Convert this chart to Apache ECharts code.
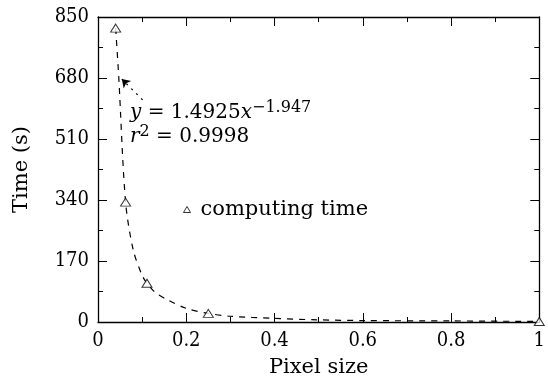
<!DOCTYPE html>
<html>
<head>
<meta charset="utf-8">
<script src="https://cdn.jsdelivr.net/npm/echarts@6/dist/echarts.min.js"></script>
<style>
  html, body { margin: 0; padding: 0; background: #fff; }
  #main { width: 548px; height: 383px; }
</style>
</head>
<body>
<div id="main"></div>
<script>
// measured points
const pixelSize = [0.04, 0.0625, 0.111, 0.25, 1]
const computeTime = [819, 334, 108, 24, 1.5]
// fitted curve
const fitX = [0.04, 0.047, 0.0625, 0.08, 0.1, 0.111, 0.13, 0.154, 0.2, 0.25, 0.3, 0.4, 0.5, 0.6, 0.8, 1]
const fitY = [819, 683, 334, 200, 130, 108, 82, 64, 38, 24, 16, 10, 6, 4, 3, 1.5]
const yTicks = [0, 170, 340, 510, 680, 850]

const font = 'DejaVu Serif'
const numFont = '"DejaVu Serif Condensed", "DejaVu Serif"'
const chart = echarts.init(document.getElementById('main'), null, { renderer: 'canvas' })

const axisCommon = {
  axisLine: { show: true, onZero: false, lineStyle: { color: '#000', width: 1.3 } },
  axisTick: { show: true, inside: true, length: 9, lineStyle: { color: '#000' } },
  minorTick: { show: true, splitNumber: 2, length: 5, lineStyle: { color: '#000' } },
  splitLine: { show: false }
}
const labelStyle = { fontFamily: numFont, fontSize: 20, color: '#000', margin: 9 }
const nameStyle = { fontFamily: font, fontSize: 21, color: '#000' }

chart.setOption({
  animation: false,
  textStyle: { fontFamily: font },
  grid: { left: 98, right: 5, top: 17, bottom: 61 },
  legend: {
    data: ['computing time'],
    left: 178, top: 194,
    itemWidth: 7, itemHeight: 6,
    itemStyle: { color: '#fff', borderColor: '#000', borderWidth: 1 },
    textStyle: { fontFamily: font, fontSize: 21, color: '#000', padding: [0, 0, 0, 5] }
  },
  xAxis: [{
    type: 'value', min: 0, max: 1, interval: 0.2,
    name: 'Pixel size', nameLocation: 'middle', nameGap: 35,
    nameTextStyle: nameStyle,
    axisLabel: { ...labelStyle, formatter: v => String(+v.toFixed(1)) },
    ...axisCommon
  }, {
    type: 'value', min: 0, max: 1, interval: 0.2, position: 'top',
    axisLabel: { show: false },
    ...axisCommon
  }],
  yAxis: [{
    type: 'value', min: 0, max: 850, interval: 170,
    name: 'Time (s)', nameLocation: 'middle', nameGap: 66,
    nameTextStyle: nameStyle,
    axisLabel: { ...labelStyle, formatter: v => yTicks.includes(v) ? String(v) : '' },
    ...axisCommon
  }, {
    type: 'value', min: 0, max: 850, interval: 170, position: 'right',
    axisLabel: { show: false },
    ...axisCommon
  }],
  series: [{
    name: 'fit',
    type: 'line',
    data: fitX.map((x, i) => [x, fitY[i]]),
    smooth: 0.3,
    showSymbol: false,
    lineStyle: { color: '#000', width: 1.2, type: [6, 6] },
    markLine: {
      silent: true,
      symbol: ['none', 'arrow'],
      symbolSize: 8,
      label: { show: false },
      lineStyle: { color: '#000', width: 1.2, type: [2, 5] },
      data: [[{ coord: [0.101, 619] }, { coord: [0.054, 677] }]]
    },
    z: 2
  }, {
    name: 'computing time',
    type: 'scatter',
    data: pixelSize.map((x, i) => [x, computeTime[i]]),
    symbol: 'triangle',
    symbolSize: [10, 8],
    itemStyle: { color: '#fff', borderColor: '#000', borderWidth: 1 },
    z: 3
  }],
  graphic: [{
    type: 'text',
    left: 130, top: 100,
    style: {
      text: '{i|y}{n| = 1.4925}{i|x}{s|−1.947}\n{i|r}{s|2}{n| = 0.9998}',
      fill: '#000',
      rich: {
        n: { fontFamily: font, fontSize: 20, lineHeight: 24 },
        i: { fontFamily: font, fontSize: 20, fontStyle: 'italic', lineHeight: 24 },
        s: { fontFamily: font, fontSize: 16, padding: [0, 0, 10, 0], lineHeight: 24 }
      }
    }
  }]
})
</script>
</body>
</html>
